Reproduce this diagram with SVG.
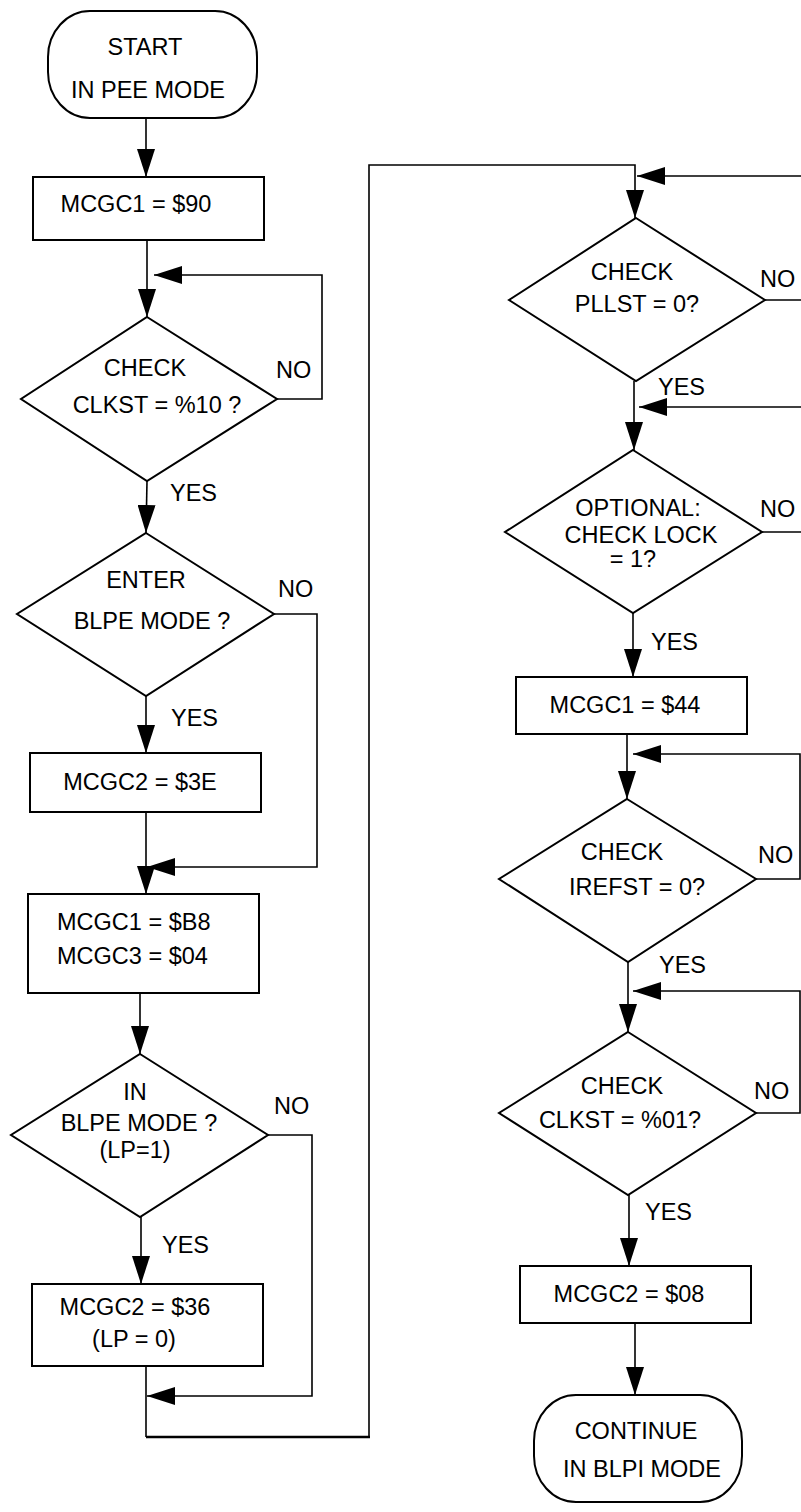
<svg xmlns="http://www.w3.org/2000/svg" width="801" height="1512" viewBox="0 0 801 1512">
<style>
.s{fill:#fff;stroke:#000;stroke-width:2}
.c{fill:none;stroke:#000;stroke-width:1.6}
.t{font-family:"Liberation Sans",Arial,sans-serif;font-size:23.5px;fill:#000}
.m{text-anchor:middle}
</style>
<defs>
<marker id="ah" markerUnits="userSpaceOnUse" viewBox="0 0 28 18" refX="28" refY="9" markerWidth="28" markerHeight="18" orient="auto">
<path d="M0,0 L28,9 L0,18 Z" fill="#000"/>
</marker>
</defs>
<rect width="801" height="1512" fill="#fff"/>
<g id="connectors">
<line class="c" x1="146" y1="118" x2="146" y2="177" marker-end="url(#ah)"/>
<line class="c" x1="147" y1="240" x2="147" y2="317" marker-end="url(#ah)"/>
<polyline class="c" points="277,399 322,399 322,275 154,275" marker-end="url(#ah)"/>
<line class="c" x1="147" y1="481" x2="146" y2="533" marker-end="url(#ah)"/>
<polyline class="c" points="274,614 317,614 317,867 147,867" marker-end="url(#ah)"/>
<line class="c" x1="146" y1="696" x2="146" y2="753" marker-end="url(#ah)"/>
<line class="c" x1="146" y1="813" x2="146" y2="894" marker-end="url(#ah)"/>
<line class="c" x1="140" y1="993" x2="140" y2="1054" marker-end="url(#ah)"/>
<polyline class="c" points="268,1135 312,1135 312,1396 147,1396" marker-end="url(#ah)"/>
<line class="c" x1="141" y1="1217" x2="141" y2="1284" marker-end="url(#ah)"/>
<line class="c" x1="146" y1="1366" x2="146" y2="1437"/>
<line x1="146" y1="1437" x2="370" y2="1437" stroke="#000" stroke-width="2.6"/>
<polyline class="c" points="369,1437 369,165 635,165 635,218" marker-end="url(#ah)"/>
<line class="c" x1="801" y1="176" x2="637" y2="176" marker-end="url(#ah)"/>
<line class="c" x1="765" y1="300" x2="801" y2="300"/>
<line class="c" x1="634" y1="381" x2="634" y2="450" marker-end="url(#ah)"/>
<line class="c" x1="801" y1="407" x2="639" y2="407" marker-end="url(#ah)"/>
<line class="c" x1="762" y1="532" x2="801" y2="532"/>
<line class="c" x1="633" y1="613" x2="633" y2="677" marker-end="url(#ah)"/>
<line class="c" x1="627" y1="734" x2="627" y2="799" marker-end="url(#ah)"/>
<polyline class="c" points="756,879 800,879 800,754 633,754" marker-end="url(#ah)"/>
<line class="c" x1="628" y1="962" x2="628" y2="1032" marker-end="url(#ah)"/>
<polyline class="c" points="756,1113 800,1113 800,991 633,991" marker-end="url(#ah)"/>
<line class="c" x1="629" y1="1195" x2="629" y2="1266" marker-end="url(#ah)"/>
<line class="c" x1="635" y1="1323" x2="635" y2="1395" marker-end="url(#ah)"/>
</g>
<g id="start">
<rect class="s" x="48" y="11" width="209" height="107" rx="42" ry="46"/>
<text class="t m" x="145" y="55">START</text>
<text class="t m" x="148" y="98">IN PEE MODE</text>
</g>
<g id="mcgc1_90">
<rect class="s" x="33" y="177" width="231" height="63"/>
<text class="t m" x="136" y="212">MCGC1 = $90</text>
</g>
<g id="check_clkst10">
<polygon class="s" points="147,317 277,399 147,481 21,399"/>
<text class="t m" x="145" y="376">CHECK</text>
<text class="t m" x="157" y="413">CLKST = %10 ?</text>
<text class="t" x="276" y="378">NO</text>
<text class="t" x="170" y="501">YES</text>
</g>
<g id="enter_blpe">
<polygon class="s" points="146,533 274,614 146,696 17,614"/>
<text class="t m" x="146" y="588">ENTER</text>
<text class="t m" x="152" y="629">BLPE MODE ?</text>
<text class="t" x="278" y="597">NO</text>
<text class="t" x="171" y="726">YES</text>
</g>
<g id="mcgc2_3e">
<rect class="s" x="30" y="753" width="231" height="59"/>
<text class="t m" x="140" y="790">MCGC2 = $3E</text>
</g>
<g id="mcgc1_b8">
<rect class="s" x="28" y="894" width="231" height="99"/>
<text class="t" x="57" y="930">MCGC1 = $B8</text>
<text class="t" x="57" y="964">MCGC3 = $04</text>
</g>
<g id="in_blpe">
<polygon class="s" points="140,1054 268,1135 140,1217 11,1135"/>
<text class="t m" x="135" y="1100">IN</text>
<text class="t m" x="139" y="1131">BLPE MODE ?</text>
<text class="t m" x="135" y="1158">(LP=1)</text>
<text class="t" x="274" y="1114">NO</text>
<text class="t" x="162" y="1253">YES</text>
</g>
<g id="mcgc2_36">
<rect class="s" x="32" y="1284" width="231" height="82"/>
<text class="t m" x="135" y="1315">MCGC2 = $36</text>
<text class="t m" x="134" y="1347">(LP = 0)</text>
</g>
<g id="check_pllst">
<polygon class="s" points="636,218 765,300 636,381 509,300"/>
<text class="t m" x="632" y="280">CHECK</text>
<text class="t m" x="637" y="312">PLLST = 0?</text>
<text class="t" x="760" y="287">NO</text>
<text class="t" x="658" y="395">YES</text>
</g>
<g id="check_lock">
<polygon class="s" points="633,450 762,532 633,613 505,532"/>
<text class="t m" x="638" y="516">OPTIONAL:</text>
<text class="t m" x="641" y="543">CHECK LOCK</text>
<text class="t m" x="633" y="567">= 1?</text>
<text class="t" x="760" y="517">NO</text>
<text class="t" x="651" y="650">YES</text>
</g>
<g id="mcgc1_44">
<rect class="s" x="516" y="677" width="231" height="57"/>
<text class="t m" x="625" y="713">MCGC1 = $44</text>
</g>
<g id="check_irefst">
<polygon class="s" points="627,799 756,879 628,962 499,879"/>
<text class="t m" x="622" y="860">CHECK</text>
<text class="t m" x="637" y="895">IREFST = 0?</text>
<text class="t" x="758" y="863">NO</text>
<text class="t" x="659" y="973">YES</text>
</g>
<g id="check_clkst01">
<polygon class="s" points="628,1032 756,1113 628,1195 499,1113"/>
<text class="t m" x="622" y="1094">CHECK</text>
<text class="t m" x="620" y="1128">CLKST = %01?</text>
<text class="t" x="754" y="1099">NO</text>
<text class="t" x="645" y="1220">YES</text>
</g>
<g id="mcgc2_08">
<rect class="s" x="520" y="1266" width="231" height="57"/>
<text class="t m" x="629" y="1302">MCGC2 = $08</text>
</g>
<g id="continue">
<rect class="s" x="534" y="1395" width="208" height="107" rx="42" ry="46"/>
<text class="t m" x="636" y="1439">CONTINUE</text>
<text class="t m" x="642" y="1477">IN BLPI MODE</text>
</g>
</svg>
